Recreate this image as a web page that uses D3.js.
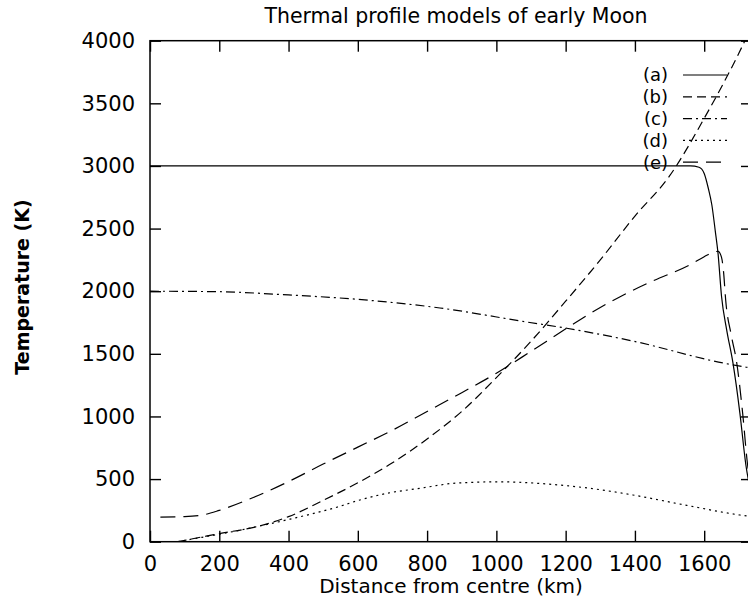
<!DOCTYPE html>
<html>
<head>
<meta charset="utf-8">
<script src="https://cdn.jsdelivr.net/npm/d3@7"></script>
<style>
  body { margin: 0; background: #fff; }
  svg { display: block; }
  text { font-family: "DejaVu Sans", "Liberation Sans", sans-serif; fill: #000; }
</style>
</head>
<body>
<svg id="chart" width="748" height="601"></svg>
<script>
// curves: [distance km, temperature K]
var curveA = [[0,3000],[400,3000],[800,3000],[1200,3000],[1500,3000],[1560,3000],[1585,2990],[1600,2940],
  [1612,2820],[1622,2690],[1632,2480],[1640,2300],[1650,1960],[1665,1690],[1683,1427],[1703,1027],[1720,620],[1738,350]];
var curveB = [[80,0],[150,38],[200,65],[300,115],[400,200],[500,330],[600,470],[700,630],[800,820],[900,1040],
  [1000,1310],[1100,1600],[1200,1920],[1300,2250],[1400,2600],[1500,2920],[1600,3380],[1700,3900],[1738,4120]];
var curveC = [[0,2000],[200,1996],[400,1970],[600,1935],[837,1866],[1088,1754],[1203,1704],[1394,1602],
  [1654,1427],[1738,1385]];
var curveD = [[80,0],[150,35],[200,60],[300,115],[404,180],[539,275],[606,333],[693,391],[779,426],[875,466],
  [933,474],[1000,478],[1050,476],[1145,461],[1300,415],[1394,373],[1550,290],[1703,213],[1738,200]];
var curveE = [[30,197],[100,200],[150,212],[200,250],[300,355],[400,480],[500,620],[600,755],[700,890],
  [800,1040],[900,1190],[1000,1345],[1100,1520],[1203,1704],[1300,1870],[1356,1954],[1450,2080],[1558,2210],
  [1600,2275],[1625,2310],[1640,2318],[1650,2270],[1656,2150],[1662,1930],[1678,1650],[1694,1427],[1711,1027],
  [1725,620],[1738,400]];

var seriesNames = ["(a)", "(b)", "(c)", "(d)", "(e)"];
var xTicks = [0, 200, 400, 600, 800, 1000, 1200, 1400, 1600];
var yTicks = [0, 500, 1000, 1500, 2000, 2500, 3000, 3500, 4000];

var dashes = [null, "9,5", "9,4,2,4", "2,4", "15,8"];
var allCurves = [curveA, curveB, curveC, curveD, curveE];

function drawChart() {
  var svg = d3.select("#chart");
  var mLeft = 150, mRight = 752, mTop = 40.7, mBottom = 541.7;

  var x = d3.scaleLinear().domain([0, 1738]).range([mLeft, mRight]);
  var y = d3.scaleLinear().domain([0, 4000]).range([mBottom, mTop]);

  svg.append("defs").append("clipPath").attr("id", "clip")
    .append("rect").attr("x", mLeft).attr("y", mTop).attr("width", mRight - mLeft).attr("height", mBottom - mTop);

  // axes, ticks pointing inward like gnuplot
  var tk = 11;
  var fmt = d3.format("d");
  svg.append("g").attr("transform", "translate(0," + mBottom + ")")
    .call(d3.axisBottom(x).tickValues(xTicks).tickSize(-tk).tickSizeOuter(0).tickPadding(14).tickFormat(fmt))
    .call(function(g) { g.select(".domain").remove(); });
  svg.append("g").attr("transform", "translate(0," + mTop + ")")
    .call(d3.axisTop(x).tickValues(xTicks).tickSize(-tk).tickSizeOuter(0).tickFormat(""))
    .call(function(g) { g.select(".domain").remove(); });
  svg.append("g").attr("transform", "translate(" + mLeft + ",0)")
    .call(d3.axisLeft(y).tickValues(yTicks).tickSize(-tk).tickSizeOuter(0).tickPadding(15).tickFormat(fmt))
    .call(function(g) { g.select(".domain").remove(); });
  svg.append("g").attr("transform", "translate(" + mRight + ",0)")
    .call(d3.axisRight(y).tickValues(yTicks).tickSize(-tk).tickSizeOuter(0).tickFormat(""))
    .call(function(g) { g.select(".domain").remove(); });

  svg.selectAll(".tick line").attr("stroke", "#000").attr("stroke-width", 1.4);
  svg.selectAll(".tick text").attr("font-size", 21).attr("font-family", "DejaVu Sans, sans-serif");

  svg.append("rect")
    .attr("x", mLeft).attr("y", mTop).attr("width", mRight - mLeft).attr("height", mBottom - mTop)
    .attr("fill", "none").attr("stroke", "#000").attr("stroke-width", 1.5);

  var line = d3.line()
    .x(function(d) { return x(d[0]); })
    .y(function(d) { return y(d[1]); })
    .curve(d3.curveMonotoneX);

  svg.append("g").attr("clip-path", "url(#clip)")
    .selectAll("path")
    .data(allCurves)
    .enter().append("path")
      .attr("d", line)
      .attr("fill", "none")
      .attr("stroke", "#000")
      .attr("stroke-width", 1.2)
      .attr("stroke-dasharray", function(d, i) { return dashes[i]; });

  // key
  var legend = svg.append("g");
  seriesNames.forEach(function(name, i) {
    var ly = 75 + i * 21.8;
    legend.append("text")
      .attr("x", 668).attr("y", ly).attr("dy", "0.35em")
      .attr("text-anchor", "end").attr("font-size", 18)
      .text(name);
    legend.append("line")
      .attr("x1", 683).attr("x2", 727).attr("y1", ly).attr("y2", ly)
      .attr("stroke", "#000").attr("stroke-width", 1.2)
      .attr("stroke-dasharray", dashes[i]);
  });

  svg.append("text")
    .attr("x", 456).attr("y", 23)
    .attr("text-anchor", "middle").attr("font-size", 20.5)
    .text("Thermal profile models of early Moon");

  svg.append("text")
    .attr("x", 451).attr("y", 593)
    .attr("text-anchor", "middle").attr("font-size", 20)
    .text("Distance from centre (km)");

  svg.append("text")
    .attr("transform", "translate(29,287) rotate(-90)")
    .attr("text-anchor", "middle").attr("font-size", 19)
    .attr("font-weight", "bold")
    .attr("font-family", "Liberation Sans, Arial, sans-serif")
    .text("Temperature (K)");
}

drawChart();
</script>
</body>
</html>
